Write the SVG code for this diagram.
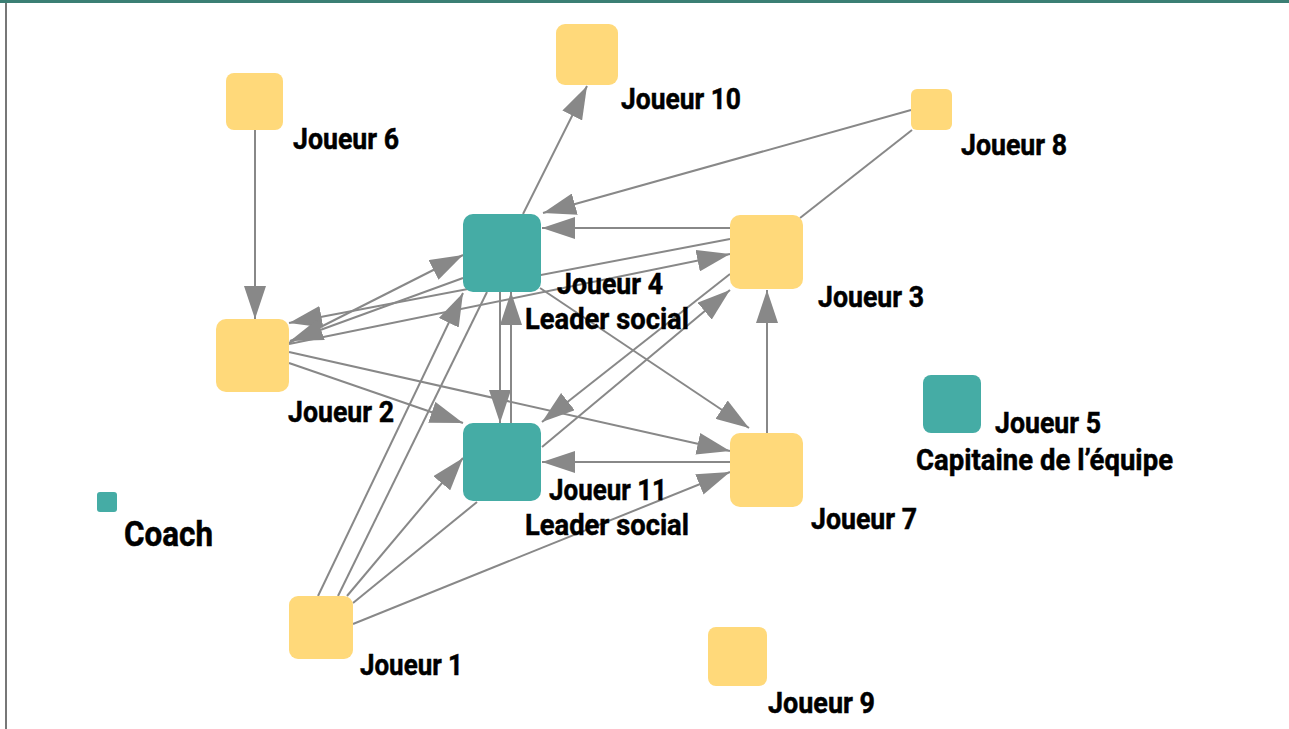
<svg xmlns="http://www.w3.org/2000/svg" width="1289" height="729" viewBox="0 0 1289 729">
<style>
.e{stroke:#888;stroke-width:2;fill:none}
.a{marker-end:url(#ah)}
.y{fill:#FFD97A}
.t{fill:#45ACA5}
.l{font-family:Roboto,"Liberation Sans",sans-serif;font-weight:bold;font-size:30px;fill:#000;stroke:#000;stroke-width:0.5}
</style>
<defs>
<marker id="ah" markerUnits="userSpaceOnUse" markerWidth="33" markerHeight="22" refX="33" refY="11" orient="auto" viewBox="0 0 33 22">
<path d="M0,0 L33,11 L0,22 z" fill="#888"/>
</marker>
</defs>
<rect x="0" y="0" width="1289" height="729" fill="#fff"/>
<rect x="0" y="0" width="1289" height="3" fill="#3b7f74"/>
<rect x="5" y="3" width="2" height="726" fill="#777"/>
<g id="connectors">
<line class="e a" x1="255" y1="130" x2="255" y2="319"/>
<line class="e a" x1="523" y1="214" x2="587" y2="86"/>
<line class="e a" x1="911" y1="110" x2="543" y2="213"/>
<line class="e" x1="912" y1="130" x2="800" y2="218"/>
<line class="e a" x1="730" y1="228" x2="542" y2="228"/>
<line class="e a" x1="730" y1="239" x2="289" y2="323"/>
<line class="e a" x1="289" y1="344" x2="730" y2="254"/>
<line class="e a" x1="289" y1="343" x2="463" y2="255"/>
<line class="e a" x1="463" y1="278" x2="290" y2="341"/>
<line class="e a" x1="289" y1="363" x2="463" y2="423"/>
<line class="e a" x1="289" y1="352" x2="730" y2="451"/>
<line class="e a" x1="500" y1="292" x2="500" y2="423"/>
<line class="e a" x1="511" y1="423" x2="511" y2="292"/>
<line class="e a" x1="540" y1="288" x2="749" y2="428"/>
<line class="e a" x1="730" y1="274" x2="542" y2="422"/>
<line class="e a" x1="542" y1="447" x2="730" y2="290"/>
<line class="e a" x1="767" y1="433" x2="767" y2="290"/>
<line class="e a" x1="730" y1="462" x2="542" y2="462"/>
<line class="e a" x1="318" y1="596" x2="463" y2="293"/>
<line class="e" x1="487" y1="292" x2="338" y2="596"/>
<line class="e a" x1="347" y1="596" x2="463" y2="458"/>
<line class="e" x1="477" y1="502" x2="353" y2="603"/>
<line class="e a" x1="353" y1="624" x2="730" y2="472"/>
</g>
<g id="joueur6"><rect class="y" x="226" y="73" width="57" height="57" rx="8"/><text class="l" x="293" y="149" textLength="106" lengthAdjust="spacingAndGlyphs">Joueur 6</text></g>
<g id="joueur10"><rect class="y" x="556" y="24" width="62" height="61" rx="9"/><text class="l" x="621" y="109" textLength="120" lengthAdjust="spacingAndGlyphs">Joueur 10</text></g>
<g id="joueur8"><rect class="y" x="911" y="89" width="41" height="41" rx="6"/><text class="l" x="961" y="155" textLength="106" lengthAdjust="spacingAndGlyphs">Joueur 8</text></g>
<g id="joueur4"><rect class="t" x="463" y="214" width="78" height="78" rx="10"/><text class="l" x="557" y="294" textLength="106" lengthAdjust="spacingAndGlyphs">Joueur 4</text><text class="l" x="525" y="329" textLength="164" lengthAdjust="spacingAndGlyphs">Leader social</text></g>
<g id="joueur3"><rect class="y" x="730" y="215" width="73" height="74" rx="10"/><text class="l" x="818" y="307" textLength="106" lengthAdjust="spacingAndGlyphs">Joueur 3</text></g>
<g id="joueur2"><rect class="y" x="216" y="319" width="73" height="73" rx="10"/><text class="l" x="288" y="422" textLength="106" lengthAdjust="spacingAndGlyphs">Joueur 2</text></g>
<g id="joueur5"><rect class="t" x="923" y="375" width="58" height="58" rx="8"/><text class="l" x="995" y="433" textLength="106" lengthAdjust="spacingAndGlyphs">Joueur 5</text><text class="l" x="916" y="470" textLength="257" lengthAdjust="spacingAndGlyphs">Capitaine de l’équipe</text></g>
<g id="joueur11"><rect class="t" x="463" y="423" width="78" height="78" rx="10"/><text class="l" x="549" y="500" textLength="118" lengthAdjust="spacingAndGlyphs">Joueur 11</text><text class="l" x="525" y="535" textLength="164" lengthAdjust="spacingAndGlyphs">Leader social</text></g>
<g id="joueur7"><rect class="y" x="730" y="433" width="73" height="74" rx="10"/><text class="l" x="811" y="529" textLength="106" lengthAdjust="spacingAndGlyphs">Joueur 7</text></g>
<g id="joueur1"><rect class="y" x="289" y="596" width="64" height="63" rx="9"/><text class="l" x="360" y="675" textLength="103" lengthAdjust="spacingAndGlyphs">Joueur 1</text></g>
<g id="joueur9"><rect class="y" x="708" y="627" width="59" height="59" rx="8"/><text class="l" x="768" y="713" textLength="107" lengthAdjust="spacingAndGlyphs">Joueur 9</text></g>
<g id="coach"><rect class="t" x="97" y="492" width="20" height="20" rx="3"/><text class="l" x="124" y="546" textLength="89" lengthAdjust="spacingAndGlyphs" style="font-size:35px">Coach</text></g>
</svg>
